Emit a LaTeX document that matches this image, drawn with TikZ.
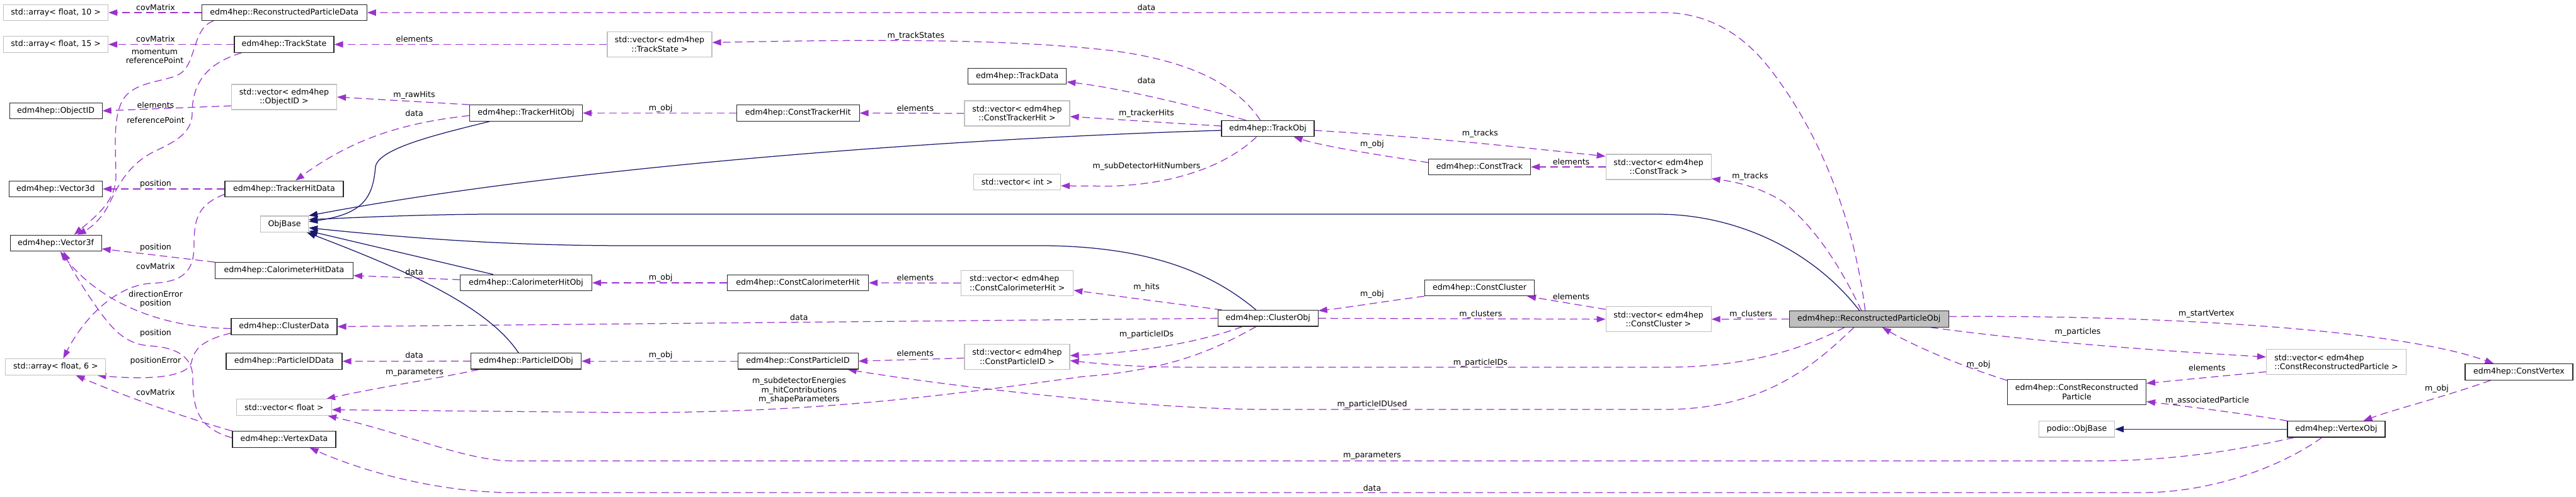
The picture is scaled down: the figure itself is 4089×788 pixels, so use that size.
\documentclass[tikz,border=0pt]{standalone}
\usepackage{fontspec}
\setmainfont{DejaVu Sans}
\usetikzlibrary{arrows.meta,backgrounds}
\definecolor{purp}{HTML}{9A32CD}
\definecolor{navyb}{HTML}{191970}
\definecolor{graybd}{HTML}{BFBFBF}
\newcommand\diafont{\fontsize{12.6}{14.5}\selectfont}
\begin{document}
\begin{tikzpicture}[x=1pt,y=-1pt,
 cls/.style={draw=black!85,line width=1.15pt,fill=white,minimum height=25.5pt,inner sep=0pt,align=center,font=\diafont},
 ext/.style={cls,draw=graybd},
 tall/.style={minimum height=40pt},
 lbl/.style={inner sep=0pt,align=center,font=\diafont},
 usage/.style={draw=purp,line width=1.25pt,dash pattern=on 12pt off 7pt,-{Triangle[length=14pt,width=10pt]}},
 inherit/.style={draw=navyb,line width=1.25pt,-{Triangle[length=14pt,width=10pt]}}]
\useasboundingbox (0,0) rectangle (4089,788);
% ---- nodes ----
\node[ext,minimum width=166pt] (arr10) at (88.6,20) {std::array< float, 10 >};
\node[cls,minimum width=262pt] (RPData) at (451.3,20) {edm4hep::ReconstructedParticleData};
\node[ext,minimum width=166pt] (arr15) at (88.6,70.5) {std::array< float, 15 >};
\node[cls,minimum width=158pt] (TrackState) at (451,70.5) {edm4hep::TrackState};
\node[ext,tall,minimum width=167pt] (vecObjectID) at (451,154) {std::vector< edm4hep\\::ObjectID >};
\node[cls,minimum width=147pt] (ObjectID) at (88.6,176) {edm4hep::ObjectID};
\node[cls,minimum width=148pt] (Vector3d) at (88.4,300) {edm4hep::Vector3d};
\node[cls,minimum width=188pt] (TrackerHitData) at (451,300) {edm4hep::TrackerHitData};
\node[ext,minimum width=76pt] (ObjBase) at (451.6,355.7) {ObjBase};
\node[cls,minimum width=145pt] (Vector3f) at (88.6,386) {edm4hep::Vector3f};
\node[cls,minimum width=219pt] (CalorimeterHitData) at (451,429.5) {edm4hep::CalorimeterHitData};
\node[cls,minimum width=168pt] (ClusterData) at (451,518.5) {edm4hep::ClusterData};
\node[cls,minimum width=184pt] (ParticleIDData) at (451,573.5) {edm4hep::ParticleIDData};
\node[ext,minimum width=159pt] (arr6) at (88.4,582.5) {std::array< float, 6 >};
\node[ext,minimum width=151pt] (vecFloat) at (451,646.5) {std::vector< float >};
\node[cls,minimum width=164pt] (VertexData) at (451,697.5) {edm4hep::VertexData};
\node[cls,minimum width=179pt] (TrackerHitObj) at (835,179.5) {edm4hep::TrackerHitObj};
\node[cls,minimum width=195pt] (ConstTrackerHit) at (1266.6,179.5) {edm4hep::ConstTrackerHit};
\node[ext,tall,minimum width=166pt] (vecTrackState) at (1047,70.5) {std::vector< edm4hep\\::TrackState >};
\node[cls,minimum width=209pt] (CalorimeterHitObj) at (835,449) {edm4hep::CalorimeterHitObj};
\node[cls,minimum width=224pt] (ConstCalorimeterHit) at (1266.6,449) {edm4hep::ConstCalorimeterHit};
\node[cls,minimum width=175pt] (ParticleIDObj) at (835,573.3) {edm4hep::ParticleIDObj};
\node[cls,minimum width=191pt] (ConstParticleID) at (1266.6,573.3) {edm4hep::ConstParticleID};
\node[cls,minimum width=156pt] (TrackData) at (1614.7,121) {edm4hep::TrackData};
\node[ext,tall,minimum width=167pt] (vecConstTrackerHit) at (1614.5,180) {std::vector< edm4hep\\::ConstTrackerHit >};
\node[cls,minimum width=147pt] (TrackObj) at (2012.5,204) {edm4hep::TrackObj};
\node[ext,minimum width=138pt] (vecInt) at (1614.5,289) {std::vector< int >};
\node[ext,tall,minimum width=178pt,align=left] (vecConstCaloHit) at (1614.7,449.3) {std::vector< edm4hep\\::ConstCalorimeterHit >};
\node[cls,minimum width=159pt] (ClusterObj) at (2012.7,505.3) {edm4hep::ClusterObj};
\node[ext,tall,minimum width=167pt] (vecConstParticleID) at (1614.5,566.5) {std::vector< edm4hep\\::ConstParticleID >};
\node[ext,tall,minimum width=167pt] (vecConstTrack) at (2632.6,265) {std::vector< edm4hep\\::ConstTrack >};
\node[cls,minimum width=162pt] (ConstTrack) at (2348.5,265) {edm4hep::ConstTrack};
\node[cls,minimum width=174pt] (ConstCluster) at (2348.5,457) {edm4hep::ConstCluster};
\node[ext,tall,minimum width=167pt] (vecConstCluster) at (2632.6,506.7) {std::vector< edm4hep\\::ConstCluster >};
\node[cls,fill=graybd,minimum width=253pt] (RPObj) at (2966.7,506.5) {edm4hep::ReconstructedParticleObj};
\node[cls,tall,minimum width=220pt] (ConstRP) at (3296.5,622.5) {edm4hep::ConstReconstructed\\Particle};
\node[ext,minimum width=120pt] (podioObjBase) at (3296.5,681.3) {podio::ObjBase};
\node[ext,tall,minimum width=222pt,align=left] (vecConstRP) at (3708.5,574.7) {std::vector< edm4hep\\::ConstReconstructedParticle >};
\node[cls,minimum width=171pt] (ConstVertex) at (3998.5,590.5) {edm4hep::ConstVertex};
\node[cls,minimum width=155pt] (VertexObj) at (3708.5,681.3) {edm4hep::VertexObj};
% ---- edges ----
\begin{pgfonlayer}{background}
\draw[usage] (RPData.west) -- (arr10.east);
\draw[usage] (TrackState.west) -- (arr15.east);
\draw[usage] ([xshift=19pt]RPData.south west) .. controls (305,45) and (312,100) .. (286,117) .. controls (265,130) and (215,128) .. (196,157) .. controls (178,185) and (184,240) .. (184,280) .. controls (184,320) and (150,345) .. ([xshift=29pt]Vector3f.north);
\draw[usage] ([yshift=-14pt]vecObjectID.west) -- (ObjectID.east);
\draw[usage] ([xshift=12pt]TrackState.south west) .. controls (330,100) and (305,130) .. (305,180) .. controls (305,215) and (270,228) .. (240,243) .. controls (200,265) and (185,300) .. (170,330) .. controls (155,355) and (138,365) .. ([xshift=34pt]Vector3f.north);
\draw[usage] (TrackerHitObj.north west) -- (vecObjectID.east);
\draw[usage] ([yshift=-4pt]TrackerHitObj.west) .. controls (640,195) and (560,220) .. ([xshift=18pt]TrackerHitData.north);
\draw[usage] (TrackerHitData.west) -- (Vector3d.east);
\draw[usage] (CalorimeterHitData.north west) -- ([yshift=-9pt]Vector3f.east);
\draw[usage] ([yshift=5pt]TrackerHitData.south west) .. controls (315,325) and (308,345) .. (308,390) .. controls (308,440) and (280,448) .. (237,450) .. controls (180,455) and (130,510) .. ([xshift=12pt]arr6.north);
\draw[usage] ([yshift=-3pt]ClusterData.west) .. controls (240,520) and (150,470) .. ([xshift=7pt]Vector3f.south);
\draw[usage] ([yshift=2.5pt]VertexData.west) .. controls (315,680) and (306,650) .. (306,600) .. controls (306,560) and (270,551) .. (237,549) .. controls (200,546) and (180,525) .. (155,490) .. controls (130,455) and (110,420) .. ([xshift=12.5pt]Vector3f.south);
\draw[usage] ([yshift=3pt]ClusterData.south west) .. controls (320,540) and (308,555) .. (304,575) .. controls (298,600) and (230,603) .. ([xshift=-14pt]arr6.south east);
\draw[usage] (VertexData.north west) .. controls (300,665) and (200,630) .. ([xshift=32pt]arr6.south);
\draw[usage] ([yshift=5pt]CalorimeterHitObj.west) -- ([yshift=-8pt]CalorimeterHitData.east);
\draw[usage] (ParticleIDObj.west) -- (ParticleIDData.east);
\draw[usage] ([xshift=13pt]ParticleIDObj.south west) .. controls (700,600) and (600,615) .. ([xshift=-9pt]vecFloat.north east);
\draw[usage] ([xshift=-19pt]ClusterObj.south) .. controls (1920,560) and (1850,588) .. (1717,598) .. controls (1500,628) and (1300,655) .. (1000,655) -- ([yshift=-4pt]vecFloat.east);
\draw[usage] ([xshift=11pt]VertexObj.south west) .. controls (3550,715) and (3450,731.7) .. (3323,731.7) -- (814,731.7) .. controls (740,731.7) and (650,690) .. ([xshift=-7pt]vecFloat.south east);
\draw[usage] ([xshift=-23pt]VertexObj.south) .. controls (3630,735) and (3520,782) .. (3400,782) -- (814,782) .. controls (700,782) and (580,750) .. ([xshift=-42pt]VertexData.south east);
\draw[usage] (ClusterObj.west) -- (ClusterData.east);
\draw[usage] ([xshift=-12pt]TrackObj.north) .. controls (1960,130) and (1880,95) .. (1762,80) .. controls (1600,62) and (1400,62) .. ([yshift=3pt]vecTrackState.east);
\draw[usage] (vecTrackState.west) -- (TrackState.east);
\draw[usage] (ConstTrackerHit.west) -- (TrackerHitObj.east);
\draw[usage] (vecConstTrackerHit.west) -- (ConstTrackerHit.east);
\draw[usage] (ConstCalorimeterHit.west) -- (CalorimeterHitObj.east);
\draw[usage] (vecConstCaloHit.west) -- (ConstCalorimeterHit.east);
\draw[usage] (ConstParticleID.west) -- (ParticleIDObj.east);
\draw[usage] ([yshift=-2pt]vecConstParticleID.west) -- (ConstParticleID.east);
\draw[usage] ([xshift=-24pt]RPObj.south) .. controls (2880,580) and (2800,650) .. (2642,650) -- (2000,650) .. controls (1800,648) and (1500,612) .. ([xshift=-17pt]ConstParticleID.south east);
\draw[usage] ([xshift=-39pt]RPObj.south) .. controls (2850,560) and (2760,583) .. (2642,583) -- (1900,583) .. controls (1800,583) and (1750,578) .. ([yshift=-6pt]vecConstParticleID.east);
\draw[usage] ([xshift=-41pt]ClusterObj.south) .. controls (1900,545) and (1800,560) .. ([yshift=2pt]vecConstParticleID.east);
\draw[usage] ([xshift=-6pt]RPObj.north) .. controls (2940,330) and (2880,200) .. (2810,110) .. controls (2760,45) and (2700,20) .. (2640,20) -- (RPData.east);
\draw[usage] ([xshift=39pt]TrackObj.north west) .. controls (1900,170) and (1780,140) .. ([yshift=-9pt]TrackData.east);
\draw[usage] ([yshift=4pt]TrackObj.west) .. controls (1850,195) and (1780,190) .. ([yshift=-5pt]vecConstTrackerHit.east);
\draw[usage] ([xshift=-18pt]TrackObj.south) .. controls (1950,260) and (1870,293) .. (1760,295.5) -- ([yshift=-6pt]vecInt.east);
\draw[usage] ([yshift=-3pt]TrackObj.east) .. controls (2300,220) and (2450,238) .. ([yshift=17pt]vecConstTrack.west);
\draw[usage] ([yshift=7pt]ConstTrack.west) .. controls (2180,245) and (2100,232) .. ([xshift=-33pt]TrackObj.south east);
\draw[usage] (vecConstTrack.west) -- (ConstTrack.east);
\draw[usage] ([xshift=-12pt]RPObj.north) .. controls (2920,420) and (2880,360) .. (2830,320) .. controls (2790,295) and (2750,288) .. ([yshift=2pt]vecConstTrack.south east);
\draw[usage] ([xshift=7pt]ClusterObj.north west) -- ([yshift=9pt]vecConstCaloHit.south east);
\draw[usage] (ConstCluster.south west) .. controls (2200,478) and (2140,488) .. ([yshift=12pt]ClusterObj.east);
\draw[usage] ([yshift=-5pt]vecConstCluster.north west) -- ([xshift=-12pt]ConstCluster.south east);
\draw[usage] (ClusterObj.east) -- (vecConstCluster.west);
\draw[usage] (RPObj.west) -- (vecConstCluster.east);
\draw[usage] ([yshift=4pt]RPObj.east) .. controls (3400,500) and (3800,520) .. ([xshift=-40pt]ConstVertex.north);
\draw[usage] ([xshift=-29pt]RPObj.south east) .. controls (3250,545) and (3450,558) .. ([yshift=8pt]vecConstRP.west);
\draw[usage] ([yshift=-2pt]ConstRP.north west) .. controls (3110,580) and (3040,550) .. ([xshift=21pt]RPObj.south);
\draw[usage] ([yshift=5pt]vecConstRP.south west) -- ([yshift=14pt]ConstRP.east);
\draw[usage] (VertexObj.north west) .. controls (3550,655) and (3470,645) .. ([yshift=-15pt]ConstRP.east);
\draw[usage] ([xshift=-45pt]ConstVertex.south) .. controls (3880,630) and (3800,650) .. ([xshift=43pt]VertexObj.north);
% inheritance
\draw[inherit] ([xshift=32pt]TrackerHitObj.south west) .. controls (700,212) and (600,235) .. (596,265) .. controls (592,310) and (580,340) .. ([yshift=4pt]ObjBase.east);
\draw[inherit] ([yshift=-3pt]TrackObj.west) .. controls (1500,220) and (900,265) .. (ObjBase.north east);
\draw[inherit] ([xshift=-15pt]RPObj.north) .. controls (2880,400) and (2760,340) .. (2630,340) -- (770,340) .. controls (650,341) and (550,346) .. ([yshift=7pt]ObjBase.east);
\draw[inherit] ([xshift=-19pt]ClusterObj.north) .. controls (1920,430) and (1820,392) .. (1660,390) -- (1000,390) .. controls (800,390) and (650,378) .. ([yshift=-6pt]ObjBase.east);
\draw[inherit] ([xshift=-52pt]CalorimeterHitObj.north) -- ([yshift=-11pt]ObjBase.east);
\draw[inherit] ([xshift=-12pt]ParticleIDObj.north) .. controls (770,480) and (620,420) .. ([xshift=-3pt]ObjBase.south east);
\draw[inherit] (VertexObj.west) -- (podioObjBase.east);
\end{pgfonlayer}
% ---- labels ----
\node[lbl] (l1) at (247,12) {covMatrix};
\node[lbl] (l2) at (247,62) {covMatrix};
\node[lbl] (l3) at (245.5,89) {momentum\\referencePoint};
\node[lbl] (l4) at (247,167) {elements};
\node[lbl] (l5) at (247,191) {referencePoint};
\node[lbl] (l6) at (657.6,151) {m\_rawHits};
\node[lbl] (l7) at (657.6,180) {data};
\node[lbl] (l8) at (247,292) {position};
\node[lbl] (l9) at (247,393) {position};
\node[lbl] (l10) at (247,423) {covMatrix};
\node[lbl] (l11) at (247,475) {directionError\\position};
\node[lbl] (l12) at (247,529) {position};
\node[lbl] (l13) at (247,573) {positionError};
\node[lbl] (l14) at (247,623) {covMatrix};
\node[lbl] (l15) at (657.6,432) {data};
\node[lbl] (l16) at (657.6,564) {data};
\node[lbl] (l17) at (658,592) {m\_parameters};
\node[lbl] (l18) at (658,62) {elements};
\node[lbl] (l19) at (1048.7,172) {m\_obj};
\node[lbl] (l20) at (1048.7,440.7) {m\_obj};
\node[lbl] (l21) at (1268.4,503.7) {data};
\node[lbl] (l22) at (1048.7,564.3) {m\_obj};
\node[lbl] (l23) at (1268.4,620) {m\_subdetectorEnergies\\m\_hitContributions\\m\_shapeParameters};
\node[lbl] (l24) at (1819.8,12) {data};
\node[lbl] (l25) at (1453.8,57) {m\_trackStates};
\node[lbl] (l26) at (1819.8,128) {data};
\node[lbl] (l27) at (1452.9,172) {elements};
\node[lbl] (l28) at (1819.8,180) {m\_trackerHits};
\node[lbl] (l29) at (1819.8,264) {m\_subDetectorHitNumbers};
\node[lbl] (l30) at (1452.9,440.7) {elements};
\node[lbl] (l31) at (1819.8,455.7) {m\_hits};
\node[lbl] (l32) at (1819.8,531) {m\_particleIDs};
\node[lbl] (l33) at (1452.9,560.7) {elements};
\node[lbl] (l34) at (2349.4,212) {m\_tracks};
\node[lbl] (l35) at (2178,229) {m\_obj};
\node[lbl] (l36) at (2494,257) {elements};
\node[lbl] (l37) at (2178,466.7) {m\_obj};
\node[lbl] (l38) at (2494,470.7) {elements};
\node[lbl] (l39) at (2350.3,498.7) {m\_clusters};
\node[lbl] (l40) at (2349.8,575.7) {m\_particleIDs};
\node[lbl] (l41) at (2178,642.3) {m\_particleIDUsed};
\node[lbl] (l42) at (2178,723.7) {m\_parameters};
\node[lbl] (l43) at (2178,775) {data};
\node[lbl] (l44) at (2778,280) {m\_tracks};
\node[lbl] (l45) at (2779.4,498.7) {m\_clusters};
\node[lbl] (l46) at (3298,526.7) {m\_particles};
\node[lbl] (l47) at (3140.5,578.7) {m\_obj};
\node[lbl] (l48) at (3502.4,498.7) {m\_startVertex};
\node[lbl] (l49) at (3503.3,583.3) {elements};
\node[lbl] (l50) at (3868,616.7) {m\_obj};
\node[lbl] (l51) at (3503.7,635.7) {m\_associatedParticle};
\end{tikzpicture}
\end{document}
